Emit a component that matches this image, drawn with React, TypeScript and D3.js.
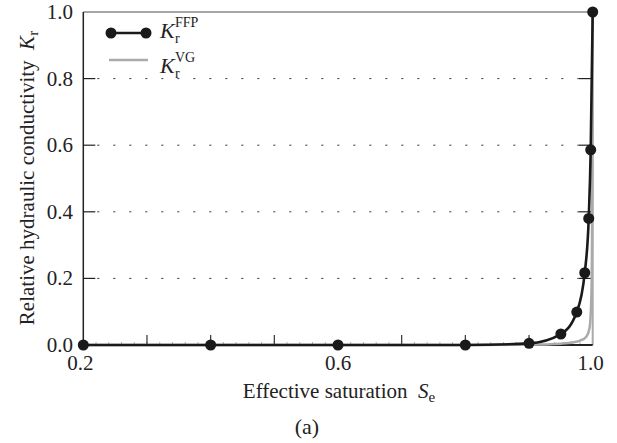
import { useEffect, useRef } from 'react';
import * as d3 from 'd3';

// FFP model points (with markers)
const ffpSe: number[] = [0.2, 0.4, 0.6, 0.8, 0.9, 0.95, 0.975, 0.9875, 0.99375, 0.996875, 1.0];
const ffpKr: number[] = [0, 0, 0, 0, 0.005, 0.033, 0.099, 0.217, 0.38, 0.586, 1.0];

// van Genuchten curve (no markers)
const vgSe: number[] = [0.2, 0.8, 0.9, 0.95, 0.97, 0.98, 0.99, 0.995, 0.998, 0.999, 1.0];
const vgKr: number[] = [0, 0, 0.001, 0.004, 0.008, 0.013, 0.025, 0.05, 0.15, 0.35, 1.0];

const xMajor: number[] = [0.2, 0.6, 1.0];
const xMinor: number[] = [0.3, 0.4, 0.5, 0.7, 0.8, 0.9];
const yTicks: number[] = [0, 0.2, 0.4, 0.6, 0.8, 1.0];

const App: React.FC = () => {
  const svgRef = useRef<SVGSVGElement | null>(null);

  useEffect(() => {
    if (!svgRef.current) return;
    const svg = d3.select(svgRef.current);
    svg.selectAll('*').remove();

    const font = "'Liberation Serif', serif";
    const left = 83.3;
    const right = 592.7;
    const top = 12;
    const bottom = 345;

    const x = d3.scaleLinear().domain([0.2, 1.0]).range([left, right]);
    const y = d3.scaleLinear().domain([0, 1]).range([bottom, top]);

    // dotted grid lines
    svg
      .append('g')
      .selectAll('line')
      .data(yTicks.filter((d) => d > 0 && d < 1))
      .enter()
      .append('line')
      .attr('x1', left + 14)
      .attr('x2', right - 14)
      .attr('y1', (d) => y(d))
      .attr('y2', (d) => y(d))
      .attr('stroke', '#333')
      .attr('stroke-width', 1)
      .attr('stroke-dasharray', '2 14');

    // y ticks both sides
    const yt = svg.append('g');
    yTicks
      .filter((d) => d > 0 && d < 1)
      .forEach((d) => {
        yt.append('line')
          .attr('x1', left).attr('x2', left + 12)
          .attr('y1', y(d)).attr('y2', y(d))
          .attr('stroke', '#222').attr('stroke-width', 1.2);
        yt.append('line')
          .attr('x1', right - 14).attr('x2', right)
          .attr('y1', y(d)).attr('y2', y(d))
          .attr('stroke', '#222').attr('stroke-width', 1.2);
      });

    // faint minor ticks on x axis
    svg
      .append('g')
      .selectAll('line')
      .data(d3.range(0.22, 1.0, 0.02))
      .enter()
      .append('line')
      .attr('x1', (d) => x(d))
      .attr('x2', (d) => x(d))
      .attr('y1', bottom)
      .attr('y2', bottom - 3)
      .attr('stroke', '#999')
      .attr('stroke-width', 0.8);

    // x ticks
    svg
      .append('g')
      .selectAll('line')
      .data(xMinor)
      .enter()
      .append('line')
      .attr('x1', (d) => x(d))
      .attr('x2', (d) => x(d))
      .attr('y1', bottom)
      .attr('y2', bottom - 10)
      .attr('stroke', '#333')
      .attr('stroke-width', 1.2);

    // frame
    svg.append('line')
      .attr('x1', left).attr('x2', right).attr('y1', top).attr('y2', top)
      .attr('stroke', '#888').attr('stroke-width', 1.5);
    svg.append('line')
      .attr('x1', right).attr('x2', right).attr('y1', top).attr('y2', bottom)
      .attr('stroke', '#aaa').attr('stroke-width', 2);
    svg.append('line')
      .attr('x1', left).attr('x2', left).attr('y1', top).attr('y2', bottom)
      .attr('stroke', '#222').attr('stroke-width', 1.5);
    svg.append('line')
      .attr('x1', left).attr('x2', right).attr('y1', bottom).attr('y2', bottom)
      .attr('stroke', '#222').attr('stroke-width', 2);

    const line = d3.line<[number, number]>()
      .x((d) => x(d[0]))
      .y((d) => y(d[1]))
      .curve(d3.curveMonotoneX);

    // VG curve
    const vgData = vgSe.map((s, i) => [s, vgKr[i]] as [number, number]);
    svg.append('path')
      .attr('fill', 'none')
      .attr('stroke', '#aaa')
      .attr('stroke-width', 2.5)
      .attr('d', line(vgData) as string);

    // FFP curve with markers
    const ffpData = ffpSe.map((s, i) => [s, ffpKr[i]] as [number, number]);
    svg.append('path')
      .attr('fill', 'none')
      .attr('stroke', '#1a1a1a')
      .attr('stroke-width', 2.6)
      .attr('d', line(ffpData) as string);

    svg.append('g')
      .selectAll('circle')
      .data(ffpData)
      .enter()
      .append('circle')
      .attr('cx', (d) => x(d[0]))
      .attr('cy', (d) => y(d[1]))
      .attr('r', 5.5)
      .attr('fill', '#1a1a1a');

    // tick labels
    svg.append('g')
      .selectAll('text')
      .data(yTicks)
      .enter()
      .append('text')
      .attr('x', 73)
      .attr('y', (d) => y(d) + 7)
      .attr('text-anchor', 'end')
      .attr('font-family', font)
      .attr('font-size', 21)
      .attr('fill', '#222')
      .text((d) => d.toFixed(1));

    svg.append('g')
      .selectAll('text')
      .data(xMajor)
      .enter()
      .append('text')
      .attr('x', (d) => x(d) - (d === 0.2 ? 3 : 0) - (d === 1.0 ? 2 : 0))
      .attr('y', 370)
      .attr('text-anchor', 'middle')
      .attr('font-family', font)
      .attr('font-size', 21)
      .attr('fill', '#222')
      .text((d) => d.toFixed(1));

    // x axis title
    const xt = svg.append('text')
      .attr('x', 339)
      .attr('y', 398)
      .attr('text-anchor', 'middle')
      .attr('font-family', font)
      .attr('font-size', 21)
      .attr('fill', '#222');
    xt.append('tspan').text('Effective saturation\u00a0\u00a0');
    xt.append('tspan').attr('font-style', 'italic').text('S');
    xt.append('tspan').attr('font-size', 15).attr('dy', 4).text('e');

    // y axis title
    const ytl = svg.append('text')
      .attr('transform', 'translate(34,178) rotate(-90)')
      .attr('text-anchor', 'middle')
      .attr('font-family', font)
      .attr('font-size', 21)
      .attr('fill', '#222');
    ytl.append('tspan').text('Relative hydraulic conductivity\u00a0\u00a0');
    ytl.append('tspan').attr('font-style', 'italic').text('K');
    ytl.append('tspan').attr('font-size', 15).attr('dy', 4).text('r');

    // panel label
    svg.append('text')
      .attr('x', 307)
      .attr('y', 434)
      .attr('text-anchor', 'middle')
      .attr('font-family', font)
      .attr('font-size', 22)
      .attr('fill', '#222')
      .text('(a)');

    // legend
    const lg = svg.append('g');
    lg.append('line')
      .attr('x1', 111).attr('x2', 146).attr('y1', 33).attr('y2', 33)
      .attr('stroke', '#1a1a1a').attr('stroke-width', 2.6);
    [111, 146].forEach((cx) => {
      lg.append('circle').attr('cx', cx).attr('cy', 33).attr('r', 5.5).attr('fill', '#1a1a1a');
    });
    lg.append('line')
      .attr('x1', 109).attr('x2', 148).attr('y1', 60).attr('y2', 60)
      .attr('stroke', '#aaa').attr('stroke-width', 2.5);

    const legendText = (yBase: number, sup: string) => {
      lg.append('text')
        .attr('x', 160).attr('y', yBase)
        .attr('font-family', font).attr('font-size', 22).attr('font-style', 'italic')
        .attr('fill', '#222').text('K');
      lg.append('text')
        .attr('x', 175).attr('y', yBase + 5)
        .attr('font-family', font).attr('font-size', 14)
        .attr('fill', '#222').text('r');
      lg.append('text')
        .attr('x', 175).attr('y', yBase - 11)
        .attr('font-family', font).attr('font-size', 14)
        .attr('fill', '#222').text(sup);
    };
    legendText(38, 'FFP');
    legendText(73, 'VG');
  }, []);

  return (
    <div style={{ position: 'absolute', left: 0, top: 0 }}>
      <svg ref={svgRef} width={617} height={443} style={{ display: 'block', background: '#fff' }}></svg>
    </div>
  );
};

export default App;
